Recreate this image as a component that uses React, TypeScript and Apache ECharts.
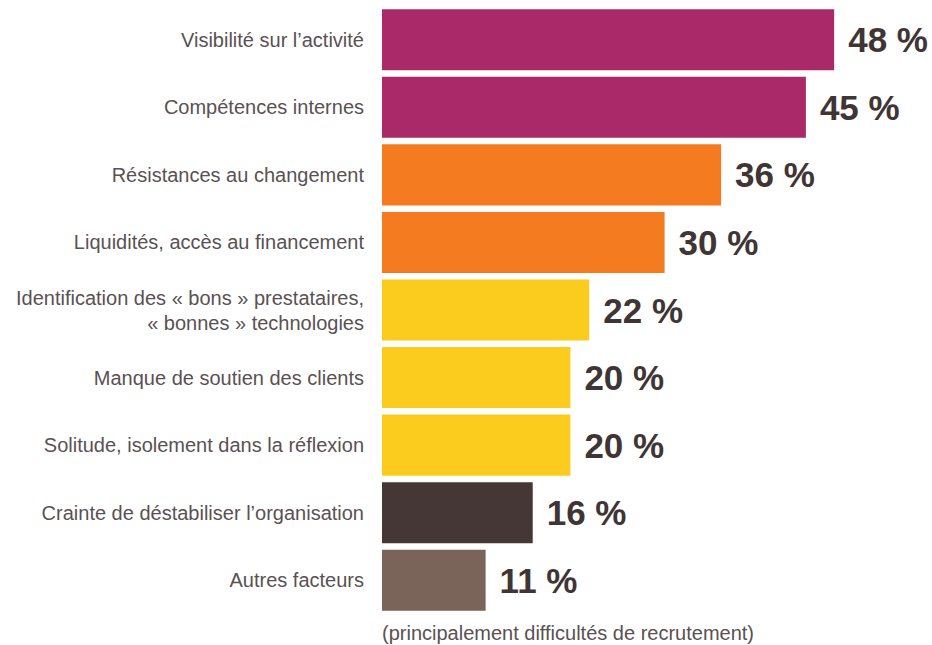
import React, { useEffect, useRef } from "react";
import * as echarts from "echarts";

const categories = [
  "Visibilité sur l’activité",
  "Compétences internes",
  "Résistances au changement",
  "Liquidités, accès au financement",
  "Identification des « bons » prestataires,\n« bonnes » technologies",
  "Manque de soutien des clients",
  "Solitude, isolement dans la réflexion",
  "Crainte de déstabiliser l’organisation",
  "Autres facteurs",
];
const values = [48, 45, 36, 30, 22, 20, 20, 16, 11];
const barColors = [
  "#AA2A69",
  "#AA2A69",
  "#F47B20",
  "#F47B20",
  "#FBCB1E",
  "#FBCB1E",
  "#FBCB1E",
  "#453735",
  "#7A645A",
];
const footnote = "(principalement difficultés de recrutement)";

export default function App() {
  const ref = useRef<HTMLDivElement>(null);
  useEffect(() => {
    document.body.style.margin = "0";
    const chart = echarts.init(ref.current!, null, { renderer: "svg" });
    chart.setOption({
      animation: false,
      backgroundColor: "#ffffff",
      grid: { left: 382, right: 79, top: 6, bottom: 31, containLabel: false },
      xAxis: {
        type: "value",
        min: 0,
        max: 50,
        show: false,
      },
      yAxis: {
        type: "category",
        inverse: true,
        data: categories,
        axisLine: { show: false },
        axisTick: { show: false },
        axisLabel: {
          margin: 18,
          color: "#5a5153",
          fontSize: 20,
          fontFamily: "'Liberation Sans', Arial, sans-serif",
          fontWeight: "normal",
          lineHeight: 25,
          align: "right",
        },
      },
      series: [
        {
          type: "bar",
          barCategoryGap: "9.6%",
          data: values.map((v, i) => ({ value: v, itemStyle: { color: barColors[i] } })),
          label: {
            show: true,
            position: "right",
            distance: 14,
            formatter: "{c} %",
            color: "#3F3535",
            fontSize: 35,
            fontWeight: "bold",
            fontFamily: "'Liberation Sans', Arial, sans-serif",
          },
        },
      ],
      graphic: [
        {
          type: "text",
          left: 382,
          top: 623,
          style: {
            text: footnote,
            fill: "#5a5153",
            fontSize: 20,
            fontFamily: "'Liberation Sans', Arial, sans-serif",
          },
        },
      ],
    });
    return () => chart.dispose();
  }, []);
  return (
    <div
      ref={ref}
      style={{ position: "absolute", left: 0, top: 0, width: 932, height: 645 }}
    />
  );
}
